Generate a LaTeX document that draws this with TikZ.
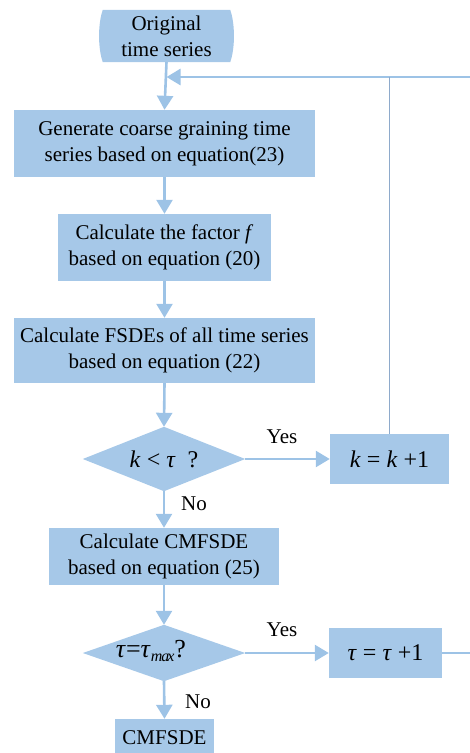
\documentclass[tikz,border=0pt]{standalone}
\usepackage{fontspec}
\setmainfont{Liberation Serif}
\usetikzlibrary{arrows.meta}
\definecolor{boxfill}{HTML}{A6C8E8}
\definecolor{linec}{HTML}{9DC3E6}
\definecolor{thinc}{HTML}{8EAACB}
\newcommand{\fsz}{\fontsize{21}{26}\selectfont}
\newcommand{\msz}{\fontsize{24}{28}\selectfont}
\tikzset{
  procbox/.style={fill=boxfill, inner sep=0pt, align=center, font=\fsz},
  plainbox/.style={inner sep=0pt, align=center, font=\fsz},
  lbl/.style={inner sep=0pt, font=\fsz},
  flow/.style={draw=linec, line width=2.6pt, -{Triangle[width=16pt,length=14pt]}},
  flowplain/.style={draw=linec, line width=2.6pt},
  thinline/.style={draw=thinc, line width=1pt},
}
\begin{document}
\begin{tikzpicture}[x=1pt,y=-1pt]
\useasboundingbox (0,0) rectangle (470,753);
% terminal
\node[plainbox, minimum width=127pt, minimum height=52pt] (start) at (166.5,36) {};
\fill[boxfill] (start.north west) .. controls ([xshift=-5pt,yshift=-14pt]start.north west) and ([xshift=-5pt,yshift=14pt]start.south west) .. (start.south west)
  -- (start.south east) .. controls ([xshift=5pt,yshift=14pt]start.south east) and ([xshift=5pt,yshift=-14pt]start.north east) .. (start.north east) -- cycle;
\node[plainbox] at (start) {Original\\time series};
% boxes
\node[procbox, minimum width=301pt, minimum height=67pt] (b1) at (164.5,143.5) {Generate coarse graining time\\series based on equation(23)};
\node[procbox, minimum width=213pt, minimum height=67pt] (b2) at (164.5,247.5) {Calculate the factor \textit{f}\\based on equation (20)};
\node[procbox, minimum width=301pt, minimum height=65pt] (b3) at (164.5,350.5) {Calculate FSDEs of all time series\\based on equation (22)};
% diamond 1
\node[plainbox, minimum width=162pt, minimum height=64pt] (d1) at (164,459) {};
\fill[boxfill] (d1.north) -- (d1.east) -- (d1.south) -- (d1.west) -- cycle;
\node[plainbox, font=\msz] at (d1) {\textit{k} < \textit{τ} ~?};
\node[procbox, font=\msz, minimum width=119pt, minimum height=50pt] (kb) at (389.5,459) {\textit{k} = \textit{k} +1};
\node[procbox, minimum width=230pt, minimum height=57pt] (b4) at (164,556.5) {Calculate CMFSDE\\based on equation (25)};
% diamond 2
\node[plainbox, minimum width=162pt, minimum height=56pt] (d2) at (164,653) {};
\fill[boxfill] (d2.north) -- (d2.east) -- (d2.south) -- (d2.west) -- cycle;
\node[plainbox, font={\fontsize{26}{28}\selectfont}] at (151,651) {\textit{τ}=\textit{τ}\raisebox{-0.4ex}{\fontsize{16}{16}\selectfont\textit{m\kern-1pt a\kern-2pt x}}?};
\node[procbox, font=\msz, minimum width=113pt, minimum height=50pt] (tb) at (385.5,653) {\textit{τ} = \textit{τ} +1};
\node[procbox, minimum width=99pt, minimum height=38pt] (endb) at (164.5,738) {CMFSDE};
% labels
\node[lbl] (yes1) at (282,437) {Yes};
\node[lbl] (no1) at (194,504) {No};
\node[lbl] (yes2) at (282,630) {Yes};
\node[lbl] (no2) at (198,702) {No};
% loop coordinates
\coordinate (loopR) at (470,77);
\coordinate (loopJ) at (166.5,77);
\coordinate (tR) at (470,653);
% connectors
\draw[flow] (start.south) -- (b1.north);
\draw[flow] (loopR) -- (loopJ);
\draw[flow] (b1.south) -- (b2.north);
\draw[flow] (b2.south) -- (b3.north);
\draw[flow] (b3.south) -- (d1.north);
\draw[flow] (d1.east) -- (kb.west);
\draw[thinline] (kb.north) -- (kb.north |- loopR);
\draw[flow] (d1.south) -- (b4.north);
\draw[flow] (b4.south) -- (d2.north);
\draw[flow] (d2.east) -- (tb.west);
\draw[flowplain] (tb.east) -- (tR);
\draw[flow] (d2.south) -- (endb.north);
\end{tikzpicture}
\end{document}
